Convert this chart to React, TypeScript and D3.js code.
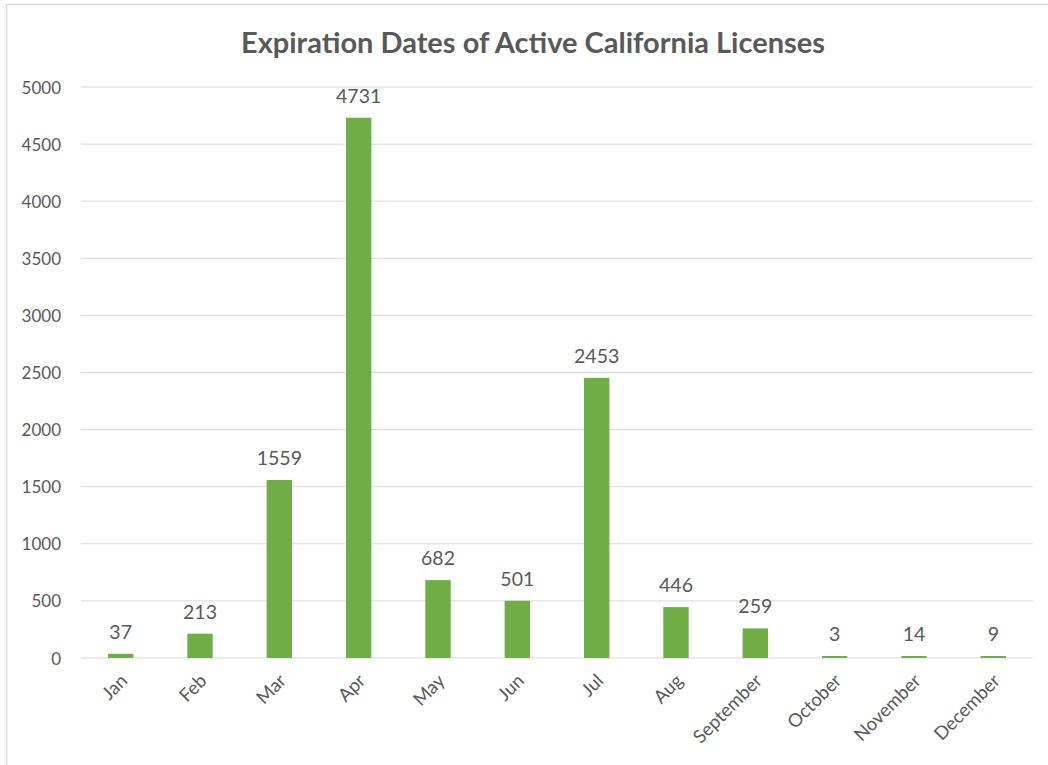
import * as d3 from 'd3';

const months = [
  'Jan', 'Feb', 'Mar', 'Apr', 'May', 'Jun', 'Jul', 'Aug',
  'September', 'October', 'November', 'December',
];
const counts = [37, 213, 1559, 4731, 682, 501, 2453, 446, 259, 3, 14, 9];
const yTicks = [0, 500, 1000, 1500, 2000, 2500, 3000, 3500, 4000, 4500, 5000];
const title = 'Expiration Dates of Active California Licenses';

const width = 1048;
const height = 765;
const margin = { top: 87, right: 15, bottom: 107, left: 81 };

const textColor = '#595959';
const barColor = '#70AD47';
const gridColor = '#D9D9D9';
const font = 'Lato, "Open Sans", sans-serif';

export default function App() {
  const x = d3
    .scaleBand<string>()
    .domain(months)
    .range([margin.left, width - margin.right])
    .paddingInner(0.68)
    .paddingOuter(0.34);

  const y = d3
    .scaleLinear()
    .domain([0, 5000])
    .range([height - margin.bottom, margin.top]);

  // horizontal gridlines + y labels
  const grid = yTicks.map((t) => (
    <g key={t}>
      <line
        x1={margin.left}
        x2={width - margin.right}
        y1={y(t)}
        y2={y(t)}
        stroke={gridColor}
        strokeWidth={1}
      />
      <text
        x={margin.left - 20}
        y={y(t)}
        textAnchor="end"
        dominantBaseline="central"
        fontSize={17}
        fill={textColor}
      >
        {t}
      </text>
    </g>
  ));

  const bars = months.map((m, i) => {
    const v = counts[i];
    const barTop = Math.min(y(v), y(0) - 2);
    const cx = (x(m) || 0) + x.bandwidth() / 2;
    return (
      <g key={m}>
        <rect
          x={x(m)}
          y={barTop}
          width={x.bandwidth()}
          height={y(0) - barTop}
          fill={barColor}
        />
        <text
          x={cx}
          y={barTop - 15}
          textAnchor="middle"
          fontSize={19.5}
          fill={textColor}
        >
          {v}
        </text>
        <text
          transform={`translate(${cx + 3},${y(0) + 19}) rotate(-45)`}
          textAnchor="end"
          dominantBaseline="central"
          fontSize={18.5}
          fill={textColor}
        >
          {m}
        </text>
      </g>
    );
  });

  return (
    <svg
      width={width}
      height={height}
      style={{ position: 'fixed', top: 0, left: 0, background: '#fff' }}
      fontFamily={font}
    >
      <rect
        x={6.5}
        y={4.5}
        width={width + 10}
        height={height + 10}
        fill="#fff"
        stroke={gridColor}
        strokeWidth={1.5}
      />
      <text
        x={533}
        y={41}
        textAnchor="middle"
        dominantBaseline="central"
        fontSize={29}
        fontWeight="bold"
        fill={textColor}
      >
        {title}
      </text>
      {grid}
      {bars}
    </svg>
  );
}
